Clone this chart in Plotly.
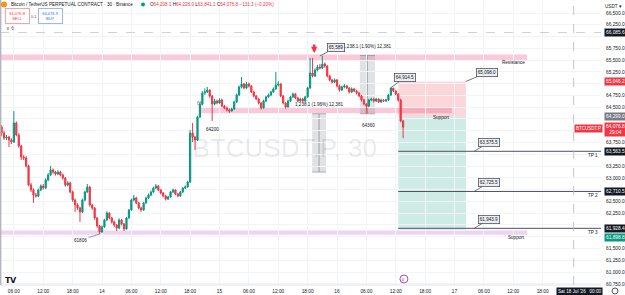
import plotly.graph_objects as go
import pandas as pd

# ---------------- data ----------------
first_open = 64080.0
closes = [63952, 63846, 63867, 63804, 63761, 64165, 63910, 63676, 63443, 63422,
          63252, 62849, 62742, 62636, 62615, 62742, 62827, 62785, 62955, 63061,
          63167, 63124, 63082, 63124, 63061, 62997, 62849, 62891, 62700, 62530,
          62424, 62360, 62276, 62530, 62700, 62806, 62424, 62360, 62148, 61978,
          61851, 61957, 62105, 62254, 62148, 62063, 61999, 61936, 62105, 62021,
          61915, 62148, 62318, 62530, 62572, 62466, 62360, 62318, 62466, 62572,
          62636, 62700, 62785, 62827, 62742, 62679, 62615, 62551, 62594, 62700,
          62742, 62657, 62615, 62700, 62785, 62806, 62912, 63952, 63867, 63804,
          64292, 64568, 64802, 64823, 64865, 64738, 64568, 64632, 64589, 64653,
          64526, 64483, 64441, 64420, 64462, 64611, 64759, 64929, 64993, 64908,
          64993, 64950, 64823, 64738, 64674, 64589, 64483, 64632, 64717, 64759,
          64823, 64887, 64971, 64993, 64738, 64589, 64504, 64632, 64717, 64780,
          64696, 64632, 64674, 64632, 64717, 64908, 65226, 65163, 65290, 65354,
          65332, 65417, 65375, 65163, 65078, 65035, 65078, 64950, 64865, 64929,
          64950, 64908, 64823, 64887, 64844, 64802, 64738, 64653, 64568, 64526,
          64653, 64674, 64632, 64674, 64611, 64653, 64632, 64653, 64759, 64908,
          64844, 64780, 64653, 64208.1, 64076.8]
highs = [64122, 63995, 63910, 63890, 63840, 64420, 64200, 63950, 63700, 63480,
         63460, 63280, 62890, 62780, 62680, 62770, 62860, 62870, 62990, 63100,
         63252, 63200, 63150, 63160, 63150, 63090, 63020, 62930, 62920, 62730,
         62560, 62460, 62390, 62560, 62730, 62870, 62830, 62450, 62380, 62170,
         62000, 61990, 62130, 62290, 62270, 62170, 62090, 62020, 62140, 62130,
         62040, 62170, 62340, 62560, 62636, 62600, 62490, 62390, 62490, 62600,
         62670, 62730, 62810, 62870, 62850, 62760, 62700, 62640, 62620, 62720,
         62770, 62760, 62680, 62720, 62800, 62840, 62940, 64016, 64165, 63890,
         64320, 64600, 64840, 64900, 64929, 64880, 64760, 64680, 64660, 64690,
         64680, 64550, 64510, 64470, 64490, 64640, 64790, 64960, 65141, 65020,
         65035, 65020, 64970, 64850, 64760, 64700, 64610, 64660, 64740, 64790,
         64850, 64920, 65248, 65050, 65010, 64760, 64610, 64660, 64740, 64810,
         64800, 64720, 64700, 64700, 64740, 64930, 65545, 65545, 65320, 65400,
         65420, 65589, 65450, 65390, 65190, 65100, 65110, 65100, 64980, 64960,
         64990, 64970, 64930, 64920, 64910, 64870, 64830, 64760, 64680, 64590,
         64680, 64700, 64700, 64700, 64690, 64680, 64670, 64680, 64780, 64914.5,
         64900, 64860, 64800, 64680, 64228]
lows = [63889, 63805, 63800, 63655, 63720, 63740, 63880, 63640, 63379, 63380,
        63220, 62820, 62700, 62466, 62580, 62590, 62720, 62750, 62760, 62930,
        63040, 63090, 63050, 63060, 63030, 62960, 62810, 62820, 62670, 62490,
        62276, 62320, 62063, 62250, 62500, 62680, 62390, 62320, 62110, 61940,
        61806, 61830, 61940, 62080, 62120, 62030, 61960, 61872, 61910, 61990,
        61872, 61900, 62130, 62300, 62500, 62440, 62330, 62280, 62300, 62450,
        62550, 62610, 62680, 62760, 62720, 62650, 62590, 62520, 62530, 62580,
        62680, 62630, 62590, 62600, 62680, 62760, 62790, 62890, 63761, 63591,
        63780, 64270, 64540, 64760, 64800, 64700, 64207, 64540, 64560, 64570,
        64500, 64460, 64410, 64377, 64400, 64440, 64590, 64740, 64900, 64880,
        64880, 64920, 64800, 64710, 64650, 64560, 64450, 64470, 64610, 64700,
        64740, 64800, 64870, 64940, 64710, 64560, 64470, 64490, 64610, 64700,
        64670, 64600, 64610, 64600, 64610, 64700, 64890, 65130, 65140, 65260,
        65300, 65310, 65340, 65130, 65050, 65000, 65010, 64920, 64830, 64840,
        64900, 64880, 64790, 64800, 64820, 64770, 64710, 64620, 64540, 64360,
        64500, 64630, 64600, 64610, 64590, 64590, 64610, 64610, 64630, 64740,
        64820, 64750, 64620, 64180, 63841.1]
opens = [first_open] + closes[:-1]
times = pd.date_range("2026-07-13 03:30", periods=len(closes), freq="30min")

x_ticks = ["2026-07-13 06:00", "2026-07-13 12:00", "2026-07-13 18:00", "2026-07-14 00:00",
           "2026-07-14 06:00", "2026-07-14 12:00", "2026-07-14 18:00", "2026-07-15 00:00",
           "2026-07-15 06:00", "2026-07-15 12:00", "2026-07-15 18:00", "2026-07-16 00:00",
           "2026-07-16 06:00", "2026-07-16 12:00", "2026-07-16 18:00", "2026-07-17 00:00",
           "2026-07-17 06:00", "2026-07-17 12:00", "2026-07-17 18:00"]
x_tick_text = ["06:00", "12:00", "18:00", "14", "06:00", "12:00", "18:00", "15",
               "06:00", "12:00", "18:00", "16", "06:00", "12:00", "18:00", "17",
               "06:00", "12:00", "18:00"]
y_ticks = [66500, 66250, 66000, 65750, 65500, 65250, 65000, 64750, 64500, 64250, 64000,
           63750, 63500, 63250, 63000, 62750, 62500, 62250, 62000, 61750, 61500,
           61250, 61000, 60750]
y_hidden = [66000, 65000, 64250, 64000, 63500, 62750, 62000, 61750]

resistance = (65490, 65620)
support_hi = (64370, 64490)
support_lo = (61790, 61880)
entry, stop, target = 64299.0, 65046.2, 61898.8
tp_levels = [63563.5, 62710.5, 61928.4]
tp_names = ["TP 1", "TP 2", "TP 3"]
tp_callouts = ["63,575.5", "62,725.5", "61,943.9"]
last_price = 64076.8
crosshair_price = 66085.6

X_RANGE = ["2026-07-13 03:10", "2026-07-18 05:55"]
Y_RANGE = [60725, 66776]

GREEN = "#089981"
RED = "#f23645"
TXT = "#131722"
FONT = "Liberation Sans"

fig = go.Figure()

# watermark
fig.add_trace(go.Scatter(x=["2026-07-15 13:20"], y=[63585], mode="text",
                         text=["BTCUSDT.P, 30"],
                         textfont=dict(size=26, color="rgba(19,23,34,0.09)", family=FONT),
                         hoverinfo="skip", showlegend=False))

fig.add_trace(go.Candlestick(
    x=times, open=opens, high=highs, low=lows, close=closes,
    increasing=dict(line=dict(color=GREEN, width=1), fillcolor=GREEN),
    decreasing=dict(line=dict(color=RED, width=1), fillcolor=RED),
    whiskerwidth=0, showlegend=False, hoverinfo="skip"))

shapes = []
def rect(x0, x1, y0, y1, fill, layer="below", line=None):
    shapes.append(dict(type="rect", xref="x", yref="y", x0=x0, x1=x1, y0=y0, y1=y1,
                       fillcolor=fill, line=line or dict(width=0), layer=layer))

# horizontal zones
rect("2026-07-13 00:00", "2026-07-17 14:50", *resistance, "rgba(236,64,122,0.28)")
rect("2026-07-13 00:00", "2026-07-17 14:50", *support_lo, "rgba(186,104,200,0.28)")
# position tool
rect("2026-07-16 12:30", "2026-07-17 02:20", entry, stop, "rgba(242,54,69,0.2)")
rect("2026-07-16 12:30", "2026-07-17 02:20", target, entry, "rgba(8,153,129,0.2)")
rect("2026-07-14 20:00", "2026-07-16 23:30", *support_hi, "rgba(236,64,122,0.28)")
# price range tools
rect("2026-07-15 18:55", "2026-07-15 21:45", 63122, 64360, "rgba(120,123,134,0.22)")
rect("2026-07-16 04:40", "2026-07-16 07:45", 64360, 65598, "rgba(120,123,134,0.22)")
for xc, y0, y1 in [("2026-07-15 20:20", 63122, 64360), ("2026-07-16 06:12", 64360, 65598)]:
    shapes.append(dict(type="line", xref="x", yref="y", x0=xc, x1=xc, y0=y0, y1=y1,
                       line=dict(color="rgba(120,123,134,0.8)", width=0.8), layer="below"))
for x0, x1, yv in [("2026-07-15 18:55", "2026-07-15 21:45", 63122), ("2026-07-15 18:55", "2026-07-15 21:45", 64360),
                   ("2026-07-16 04:40", "2026-07-16 07:45", 64360), ("2026-07-16 04:40", "2026-07-16 07:45", 65598)]:
    shapes.append(dict(type="line", xref="x", yref="y", x0=x0, x1=x1, y0=yv, y1=yv,
                       line=dict(color="rgba(120,123,134,0.7)", width=0.8), layer="below"))
# TP lines
for lv in tp_levels:
    shapes.append(dict(type="line", xref="x", yref="y", x0="2026-07-16 12:30", x1=X_RANGE[1],
                       y0=lv, y1=lv, line=dict(color="#50535e", width=1)))
# crosshair
shapes.append(dict(type="line", xref="x", yref="paper", x0="2026-07-18 00:20", x1="2026-07-18 00:20",
                   y0=0, y1=1, line=dict(color="#b2b5be", width=0.8, dash="dash")))
shapes.append(dict(type="line", xref="paper", yref="y", x0=0, x1=1, y0=crosshair_price, y1=crosshair_price,
                   line=dict(color="#c3c5cc", width=0.8, dash="dash")))
# borders
shapes.append(dict(type="line", xref="paper", yref="paper", x0=0, x1=1, y0=0, y1=0,
                   line=dict(color="#e0e3eb", width=1)))
shapes.append(dict(type="line", xref="paper", yref="paper", x0=0.001, x1=0.001, y0=0, y1=1,
                   line=dict(color="#b2b5be", width=1.5)))
# header icons
shapes.append(dict(type="circle", xref="paper", yref="paper", xsizemode="pixel", ysizemode="pixel",
                   xanchor=0, yanchor=1, x0=1, x1=7, y0=-7.5, y1=-1.5, fillcolor="#f7931a", line=dict(width=0)))
shapes.append(dict(type="circle", xref="paper", yref="paper", xsizemode="pixel", ysizemode="pixel",
                   xanchor=0, yanchor=1, x0=141, x1=145, y0=-6.5, y1=-2.5, fillcolor=GREEN, line=dict(width=0)))
# event marker at the bottom
shapes.append(dict(type="circle", xref="x", yref="y", xsizemode="pixel", ysizemode="pixel",
                   xanchor="2026-07-16 13:40", yanchor=60853, x0=-4, x1=4, y0=-4, y1=4,
                   fillcolor="white", line=dict(color="#ab47bc", width=1)))
# settings icon
shapes.append(dict(type="circle", xref="paper", yref="paper", xsizemode="pixel", ysizemode="pixel",
                   xanchor=1, yanchor=0, x0=11, x1=17, y0=-9, y1=-3, line=dict(color="#50535e", width=1)))

ann = []
def pix(text, px, py, size=5, color=TXT, xanchor="left", **kw):
    d = dict(text=text, xref="paper", yref="paper", x=0, y=1, xshift=px, yshift=-py,
             xanchor=xanchor, yanchor="middle", showarrow=False,
             font=dict(size=size, color=color, family=FONT))
    d.update(kw)
    ann.append(d)

def rs(v):
    return f"<span style='color:{RED}'>{v}</span>"

pix("Bitcoin / TetherUS PERPETUAL CONTRACT · 30 · Binance", 9, 4.5, size=4.6)
pix("O" + rs("64,208.1") + " H" + rs("64,228.0") + " L" + rs("63,841.1") + " C" + rs("64,076.8") + " " + rs("−131.3 (−0.20%)"),
    148, 4.5, size=4.6)
pix("64,076.8<br>SELL", 5, 16, size=4, color=RED, width=21, height=12, bordercolor="#f5a3ab",
    borderwidth=1, bgcolor="white", align="center")
pix("0.1", 29, 16, size=4, color="#50535e")
pix("64,076.9<br>BUY", 38, 16, size=4, color="#2962ff", width=21, height=12, bordercolor="#9db4f5",
    borderwidth=1, bgcolor="white", align="center")
pix("∨ 6", 4, 28, size=4.5, color="#50535e")
pix("USDT ▾", 603, 6, size=4.6)
pix("𝗧𝗩", 3, 280, size=8, color=TXT)
pix("Sat 18 Jul '26   00:00", 579, 291, size=4.6, color="white", xanchor="center", bgcolor=TXT, borderpad=1)

def axlabel(text, price, bg, fg="white", shift=3):
    ann.append(dict(text=text, xref="paper", x=1, xshift=shift, xanchor="left", yref="y", y=price,
                    yanchor="middle", showarrow=False, bgcolor=bg, borderpad=1,
                    font=dict(size=4.8, color=fg, family=FONT)))

axlabel("66,085.6", crosshair_price, TXT)
axlabel("65,046.2", stop, RED)
axlabel("64,299.0", entry, "#787b86")
axlabel("64,076.8<br>29:04", last_price - 60, RED)
ann.append(dict(text="BTCUSDT.P", xref="paper", x=1, xshift=2, xanchor="right", yref="y", y=last_price - 30,
                showarrow=False, bgcolor=RED, borderpad=1, font=dict(size=4.5, color="white", family=FONT)))
for lv in tp_levels:
    axlabel(f"{lv:,.1f}", lv, TXT)
axlabel(f"{target:,.1f}", target - 165, GREEN)

def dtext(text, x, y, size=4.6, color=TXT, xanchor="center", **kw):
    d = dict(text=text, x=x, y=y, xref="x", yref="y", xanchor=xanchor, yanchor="middle",
             showarrow=False, font=dict(size=size, color=color, family=FONT))
    d.update(kw)
    ann.append(d)

dtext("Resistance", "2026-07-17 14:50", 65439, xanchor="right")
dtext("Support", "2026-07-16 23:30", 64271, xanchor="right")
dtext("Support", "2026-07-17 14:50", 61723, xanchor="right")
for lv, name in zip(tp_levels, tp_names):
    ann.append(dict(text=name, xref="paper", x=1, xshift=-1, xanchor="right", yref="y", y=lv,
                    yshift=-4, showarrow=False, font=dict(size=4.6, color=TXT, family=FONT)))
dtext("1,238.1 (1.96%) 12,381", "2026-07-15 20:20", 64547)
dtext("1,238.1 (1.90%) 12,381", "2026-07-16 06:12", 65780)
dtext("64200", "2026-07-14 22:30", 64030)
dtext("64360", "2026-07-16 06:20", 64122)
dtext("65", "2026-07-14 20:00", 64589, color="#787b86")
dtext("ε", "2026-07-16 13:40", 60853, size=5, color="#ab47bc")

def callout(text, x, y, axp, ayp):
    ann.append(dict(text=text, x=x, y=y, xref="x", yref="y", ax=axp, ay=ayp, showarrow=True,
                    arrowhead=0, arrowwidth=0.8, arrowcolor="#50535e", bordercolor="#50535e",
                    borderwidth=0.8, borderpad=1, bgcolor="#eceef2",
                    font=dict(size=4.6, color=TXT, family=FONT)))

callout("65,589", "2026-07-15 20:30", 65589, 16, -8)
callout("64,914.5", "2026-07-16 11:00", 64914.5, 14, -10)
callout("65,098.0", "2026-07-17 02:20", stop, 21, -9)
for lv, txt in zip(tp_levels, tp_callouts):
    callout(txt, "2026-07-17 04:00", lv, 15, -9)
ann.append(dict(text="61806", x=times[40], y=61806, xref="x", yref="y", ax=-19, ay=6, showarrow=True,
                arrowhead=0, arrowwidth=0.6, arrowcolor="#50535e",
                font=dict(size=4.6, color=TXT, family=FONT)))
# red arrow marker
ann.append(dict(text="", x="2026-07-15 19:20", y=65651, xref="x", yref="y", ax=0, ay=-10,
                showarrow=True, arrowhead=2, arrowsize=0.5, arrowwidth=2.5, arrowcolor=RED))

fig.update_layout(
    width=625, height=295, margin=dict(l=0, r=24, t=0, b=10),
    paper_bgcolor="white", plot_bgcolor="white", showlegend=False,
    shapes=shapes, annotations=ann,
    xaxis=dict(type="date", range=X_RANGE, rangeslider=dict(visible=False), tickvals=x_ticks,
               ticktext=x_tick_text, showgrid=True, gridcolor="#f3f4f7", gridwidth=1,
               zeroline=False, showline=False, ticks="", ticklabelstandoff=2,
               tickfont=dict(size=4.8, color=TXT, family=FONT), fixedrange=True),
    yaxis=dict(side="right", range=Y_RANGE, tickvals=y_ticks,
               ticktext=["" if v in y_hidden else f"{v:,.1f}" for v in y_ticks],
               showgrid=True, gridcolor="#f3f4f7", gridwidth=1, zeroline=False, showline=False,
               ticks="", ticklabelstandoff=4, tickfont=dict(size=4.8, color=TXT, family=FONT),
               fixedrange=True),
)

fig.write_html("out.html")
